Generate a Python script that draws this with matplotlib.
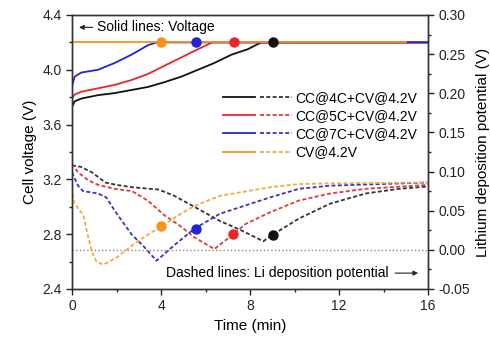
import numpy as np
import matplotlib
matplotlib.use("Agg")
import matplotlib.pyplot as plt
from matplotlib.legend_handler import HandlerTuple
from matplotlib.ticker import MultipleLocator

plt.rcParams['font.family'] = ['Liberation Sans', 'DejaVu Sans']

# Solid lines: cell voltage (left axis)
t_4c = [0, 0.12, 0.42, 1.17, 1.92, 3.42, 4.16, 4.91, 5.66, 6.4, 7.16, 7.9, 8.5, 16]
v_4c = [3.73, 3.77, 3.79, 3.815, 3.83, 3.875, 3.91, 3.95, 4.0, 4.05, 4.11, 4.15, 4.2, 4.2]
t_5c = [0, 0.12, 0.42, 1.17, 1.92, 2.67, 3.42, 4.16, 4.91, 5.66, 6.3, 16]
v_5c = [3.79, 3.82, 3.84, 3.865, 3.89, 3.925, 3.97, 4.03, 4.09, 4.15, 4.2, 4.2]
t_7c = [0, 0.12, 0.42, 1.17, 1.92, 2.67, 3.42, 3.8, 16]
v_7c = [3.88, 3.95, 3.98, 4.0, 4.05, 4.11, 4.18, 4.2, 4.2]
t_cv = [0, 15]
v_cv = [4.2, 4.2]

# Dashed lines: Li deposition potential (right axis)
tp_4c = [0, 0.4, 0.9, 1.5, 2.0, 2.7, 3.9, 4.6, 5.5, 6.64, 7.6, 8.6, 9.0, 10.2, 11.6, 13.2, 14.7, 16]
p_4c = [0.108, 0.106, 0.099, 0.086, 0.083, 0.080, 0.077, 0.069, 0.055, 0.037, 0.025, 0.011, 0.019, 0.040, 0.059, 0.072, 0.078, 0.081]
tp_5c = [0, 0.27, 0.72, 1.17, 1.9, 2.7, 3.4, 4.16, 4.84, 5.5, 6.4, 7.2, 7.8, 8.9, 10.2, 11.6, 13.2, 16]
p_5c = [0.110, 0.099, 0.089, 0.083, 0.078, 0.075, 0.063, 0.044, 0.031, 0.016, 0.001, 0.019, 0.033, 0.048, 0.063, 0.072, 0.078, 0.083]
tp_7c = [0, 0.27, 0.5, 1.17, 1.54, 1.92, 2.67, 3.27, 3.8, 4.6, 5.5, 6.64, 8.9, 10.2, 11.6, 16]
p_7c = [0.099, 0.082, 0.075, 0.072, 0.067, 0.050, 0.020, 0.003, -0.014, 0.006, 0.027, 0.046, 0.067, 0.078, 0.082, 0.086]
tp_cv = [0, 0.1, 0.3, 0.5, 0.7, 0.9, 1.1, 1.4, 2.0, 2.44, 3.0, 4.0, 5.0, 5.5, 6.64, 8.9, 10.2, 11.6, 16]
p_cv = [0.080, 0.060, 0.052, 0.045, 0.020, -0.003, -0.015, -0.019, -0.010, 0.0, 0.012, 0.030, 0.048, 0.056, 0.069, 0.080, 0.084, 0.085, 0.086]

# end-of-CC markers
dot_t = [9.02, 7.3, 5.56, 4.02]
dot_v = [4.2, 4.2, 4.2, 4.2]
dot_p_t = [9.02, 7.24, 5.56, 4.0]
dot_p = [0.0196, 0.0205, 0.027, 0.031]

labels = ['CC@4C+CV@4.2V', 'CC@5C+CV@4.2V', 'CC@7C+CV@4.2V', 'CV@4.2V']
solid_colors = ['#111111', '#e8262a', '#2323d8', '#f7931e']
dash_colors = ['#333333', '#e03a3a', '#3535c8', '#f2aa45']

fig = plt.figure(figsize=(4.9, 3.41), dpi=100)
ax = fig.add_axes([72/490, 1-289/341, 356/490, 274/341])
ax2 = ax.twinx()

dash = (0, (2.2, 1.3))
solids = []
dashes = []
for tt, vv, c in zip([t_4c, t_5c, t_7c, t_cv], [v_4c, v_5c, v_7c, v_cv], solid_colors):
    l, = ax.plot(tt, vv, color=c, lw=1.3)
    solids.append(l)
for tt, pp, c in zip([tp_4c, tp_5c, tp_7c, tp_cv], [p_4c, p_5c, p_7c, p_cv], dash_colors):
    l, = ax2.plot(tt, pp, color=c, lw=1.3, linestyle=dash)
    dashes.append(l)

ax2.axhline(0, color='#888888', lw=1.0, linestyle=':')

for i in range(4):
    ax.plot(dot_t[i], dot_v[i], 'o', color=solid_colors[i], ms=6.5, zorder=5)
    ax2.plot(dot_p_t[i], dot_p[i], 'o', color=solid_colors[i], ms=6.5, zorder=5)

ax.set_xlim(0, 16)
ax.set_ylim(2.4, 4.4)
ax2.set_ylim(-0.05, 0.30)
ax.xaxis.set_major_locator(MultipleLocator(4))
ax.xaxis.set_minor_locator(MultipleLocator(2))
ax.yaxis.set_major_locator(MultipleLocator(0.4))
ax.yaxis.set_minor_locator(MultipleLocator(0.2))
ax2.yaxis.set_major_locator(MultipleLocator(0.05))
ax2.yaxis.set_minor_locator(MultipleLocator(0.025))
ax.yaxis.set_major_formatter(plt.FormatStrFormatter('%.1f'))
ax2.yaxis.set_major_formatter(plt.FormatStrFormatter('%.2f'))

for a in (ax, ax2):
    a.tick_params(which='major', direction='out', length=4, width=1, labelsize=10, colors='#222222')
    a.tick_params(which='minor', direction='out', length=2.5, width=1, colors='#222222')
    for s in a.spines.values():
        s.set_color('#333333')
        s.set_linewidth(1.0)

ax.set_xlabel('Time (min)', fontsize=11, labelpad=4)
ax.set_ylabel('Cell voltage (V)', fontsize=11, labelpad=4)
ax2.set_ylabel('Lithium deposition potential (V)', fontsize=11, labelpad=4)

ax2.legend(list(zip(solids, dashes)), labels,
           handler_map={tuple: HandlerTuple(ndivide=None, pad=0.4)},
           loc='upper left', bbox_to_anchor=(0.424, 0.723), frameon=False,
           fontsize=10, handlelength=5.0, handletextpad=0.2,
           labelspacing=0.3, borderpad=0, borderaxespad=0)

ax2.text(0.07, 0.955, 'Solid lines: Voltage', transform=ax2.transAxes,
         fontsize=10, va='center', ha='left')
ax2.annotate('', xy=(0.012, 0.955), xytext=(0.066, 0.955), xycoords='axes fraction',
             arrowprops=dict(arrowstyle='-|>', color='#222222', lw=0.8, mutation_scale=7))
ax2.text(0.264, 0.058, 'Dashed lines: Li deposition potential', transform=ax2.transAxes,
         fontsize=10, va='center', ha='left')
ax2.annotate('', xy=(0.98, 0.058), xytext=(0.9, 0.058), xycoords='axes fraction',
             arrowprops=dict(arrowstyle='-|>', color='#222222', lw=0.8, mutation_scale=7))

fig.savefig('out.png', dpi=100)
